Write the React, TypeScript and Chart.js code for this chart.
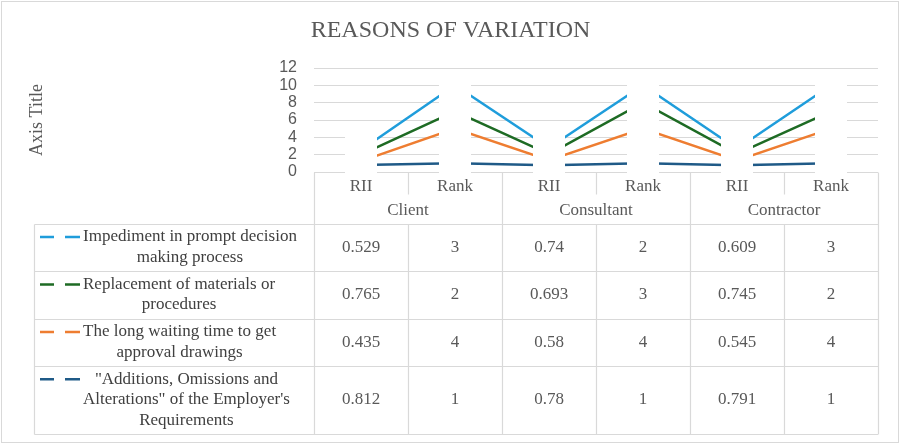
import { useEffect, useRef } from 'react';
import { Chart, registerables } from 'chart.js';

Chart.register(...registerables);

const TITLE = 'REASONS OF VARIATION';
const Y_AXIS_TITLE = 'Axis Title';
const groups = ['Client', 'Consultant', 'Contractor'];
const measures = ['RII', 'Rank'];
const categories = groups.flatMap((g) => measures.map((m) => `${g} ${m}`));
const Y_MIN = 0;
const Y_MAX = 12;
const Y_STEP = 2;

// Series (table order, top to bottom)
const seriesNames = [
  'Impediment in prompt decision making process',
  'Replacement of materials or procedures',
  'The long waiting time to get approval drawings',
  '"Additions, Omissions and Alterations" of the Employer\'s Requirements',
];
const impediment = [0.529, 3, 0.74, 2, 0.609, 3];
const replacement = [0.765, 2, 0.693, 3, 0.745, 2];
const waiting = [0.435, 4, 0.58, 4, 0.545, 4];
const additions = [0.812, 1, 0.78, 1, 0.791, 1];
const seriesValues = [impediment, replacement, waiting, additions];
const seriesColors = ['#1f9ddb', '#1e6b24', '#ee7d31', '#1f5a87'];

const SERIF = '"Liberation Serif", "Times New Roman", serif';
const GRID = '#d9d9d9';
const TEXT = '#595959';

function wrap(ctx: CanvasRenderingContext2D, text: string, maxW: number): string[] {
  const words = text.split(' ');
  const lines: string[] = [];
  let cur = '';
  for (const w of words) {
    const test = cur ? cur + ' ' + w : w;
    if (ctx.measureText(test).width > maxW && cur) {
      lines.push(cur);
      cur = w;
    } else cur = test;
  }
  if (cur) lines.push(cur);
  return lines;
}

const tablePlugin = {
  id: 'dataTable',
  afterDraw(chart: any) {
    const ctx: CanvasRenderingContext2D = chart.ctx;
    const area = chart.chartArea;
    const n = categories.length;
    const colW = (area.right - area.left) / n;
    const colEdge = (i: number) => area.left + i * colW;
    const tableTop = Math.round(area.bottom) + 0.5;
    const bodyTop = tableTop + 51;
    const legendLeft = 34.5;
    const textLeft = 83;
    const textMax = 229;
    const lineH = 20.5;

    ctx.save();
    // outer chart border
    ctx.strokeStyle = GRID;
    ctx.lineWidth = 1;
    ctx.strokeRect(1.5, 1.5, 897, 441);

    // compute rows
    ctx.font = `17px ${SERIF}`;
    const rowLines = seriesNames.map((s) => wrap(ctx, s, textMax));
    const rowH = rowLines.map((l) => l.length * 20 + 7.5);
    const rowTops: number[] = [];
    let y = bodyTop;
    rowH.forEach((h) => {
      rowTops.push(y);
      y += h;
    });
    const tableBottom = y;

    // grid lines
    ctx.strokeStyle = GRID;
    ctx.lineWidth = 1.2;
    ctx.beginPath();
    ctx.moveTo(area.left, tableTop);
    ctx.lineTo(area.right, tableTop);
    for (let r = 0; r <= rowTops.length; r++) {
      const yy = Math.round(r < rowTops.length ? rowTops[r] : tableBottom) + 0.5;
      ctx.moveTo(legendLeft, yy);
      ctx.lineTo(area.right, yy);
    }
    ctx.moveTo(legendLeft, Math.round(bodyTop) + 0.5);
    ctx.lineTo(legendLeft, Math.round(tableBottom) + 0.5);
    for (let i = 0; i <= n; i++) {
      const xx = Math.round(colEdge(i)) + 0.5;
      if (i % measures.length === 0) {
        ctx.moveTo(xx, tableTop);
        ctx.lineTo(xx, Math.round(tableBottom) + 0.5);
      } else {
        ctx.moveTo(xx, tableTop);
        ctx.lineTo(xx, tableTop + 22);
        ctx.moveTo(xx, Math.round(bodyTop) + 0.5);
        ctx.lineTo(xx, Math.round(tableBottom) + 0.5);
      }
    }
    ctx.stroke();

    // header text
    ctx.fillStyle = TEXT;
    ctx.textAlign = 'center';
    ctx.textBaseline = 'middle';
    ctx.font = `17px ${SERIF}`;
    for (let i = 0; i < n; i++) {
      ctx.fillText(measures[i % measures.length], colEdge(i) + colW / 2, tableTop + 14);
    }
    groups.forEach((g, gi) => {
      const cx = colEdge(gi * measures.length) + (colW * measures.length) / 2;
      ctx.fillText(g, cx, tableTop + 38);
    });

    // rows
    seriesNames.forEach((_, r) => {
      const top = rowTops[r];
      const h = rowH[r];
      const lines = rowLines[r];
      const blockH = lines.length * lineH;
      const firstY = top + h / 2 - blockH / 2 + lineH / 2;
      const maxW = Math.max(...lines.map((l) => ctx.measureText(l).width));
      const cx = textLeft + maxW / 2;
      ctx.fillStyle = '#404040';
      lines.forEach((l, li) => ctx.fillText(l, cx, firstY + li * lineH));
      // legend key (dashed)
      ctx.strokeStyle = seriesColors[r];
      ctx.lineWidth = 2.5;
      ctx.beginPath();
      ctx.moveTo(40, firstY);
      ctx.lineTo(54, firstY);
      ctx.moveTo(65, firstY);
      ctx.lineTo(80, firstY);
      ctx.stroke();
      // values
      ctx.fillStyle = TEXT;
      seriesValues[r].forEach((v, i) => {
        ctx.fillText(String(v), colEdge(i) + colW / 2, top + h / 2);
      });
    });

    // white gaps around the category points
    const metas = chart.data.datasets.map((_: any, d: number) => chart.getDatasetMeta(d));
    ctx.fillStyle = '#ffffff';
    for (let i = 0; i < n; i++) {
      const px = metas[0].data[i].x;
      const topY = Math.min(...metas.map((m: any) => m.data[i].y)) - 15;
      ctx.fillRect(px - 16, topY, 32, area.bottom + 2 - topY);
    }
    ctx.restore();
  },
};

export default function App() {
  const ref = useRef<HTMLCanvasElement>(null);
  useEffect(() => {
    if (!ref.current) return;
    // datasets stacked bottom-first (reverse of table order)
    const order = [3, 2, 1, 0];
    const chart = new Chart(ref.current, {
      type: 'line',
      data: {
        labels: categories,
        datasets: order.map((k) => ({
          label: seriesNames[k],
          data: seriesValues[k],
          borderColor: seriesColors[k],
          backgroundColor: seriesColors[k],
          borderWidth: 2.5,
          pointRadius: 0,
          fill: false,
          tension: 0,
        })),
      },
      options: {
        animation: false,
        responsive: true,
        maintainAspectRatio: false,
        layout: { padding: { left: 0, right: 0, top: 0, bottom: 272 } },
        plugins: {
          legend: { display: false },
          tooltip: { enabled: false },
          title: {
            display: true,
            text: TITLE,
            color: TEXT,
            font: { family: SERIF, size: 24, weight: 'normal', lineHeight: 1.2 },
            padding: { top: 16.6, bottom: 22.6 },
          },
        },
        scales: {
          x: { display: false, offset: true },
          y: {
            stacked: true,
            min: Y_MIN,
            max: Y_MAX,
            ticks: {
              stepSize: Y_STEP,
              autoSkip: false,
              color: TEXT,
              padding: 17,
              font: { family: '"Liberation Sans", Arial, sans-serif', size: 16 },
            },
            grid: { color: GRID, lineWidth: 1, drawTicks: false },
            border: { display: false },
            title: {
              display: true,
              text: Y_AXIS_TITLE,
              color: TEXT,
              font: { family: SERIF, size: 18, weight: 'normal' },
              padding: { top: 26, bottom: 0 },
            },
            afterFit: (s: any) => {
              s.width = 314;
            },
          },
          yRightSpace: {
            position: 'right',
            display: true,
            min: Y_MIN,
            max: Y_MAX,
            ticks: { display: false },
            grid: { display: false, drawTicks: false },
            border: { display: false },
            afterFit: (s: any) => {
              s.width = 23;
            },
          },
        },
      },
      plugins: [tablePlugin],
    });
    return () => chart.destroy();
  }, []);
  return (
    <div style={{ position: 'absolute', left: 0, top: 0, width: 901, height: 444, background: '#fff' }}>
      <canvas ref={ref} />
    </div>
  );
}
